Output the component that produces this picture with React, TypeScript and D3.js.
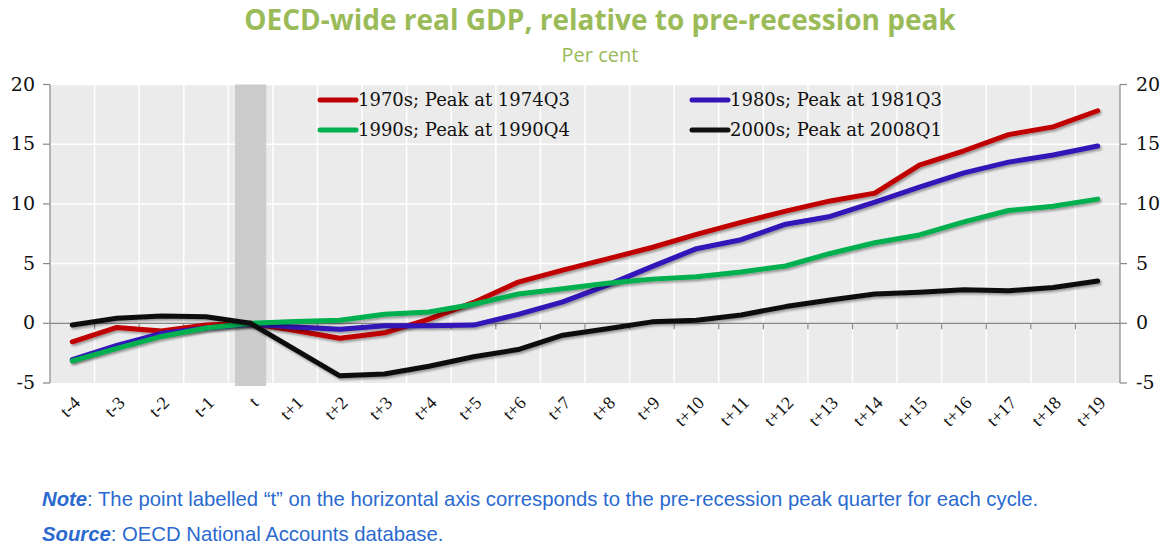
import React from "react";
import * as d3 from "d3";

const categories = ["t-4","t-3","t-2","t-1","t","t+1","t+2","t+3","t+4","t+5","t+6","t+7","t+8","t+9","t+10","t+11","t+12","t+13","t+14","t+15","t+16","t+17","t+18","t+19"];
const s1970 = [-1.55,-0.35,-0.65,-0.15,0,-0.6,-1.25,-0.8,0.35,1.75,3.45,4.45,5.4,6.35,7.45,8.45,9.4,10.25,10.9,13.25,14.45,15.8,16.45,17.8];
const s1980 = [-3.05,-1.85,-0.85,-0.4,-0.05,-0.3,-0.5,-0.2,-0.2,-0.15,0.75,1.8,3.2,4.75,6.25,7.0,8.3,8.95,10.15,11.4,12.6,13.5,14.1,14.85];
const s1990 = [-3.15,-2.1,-1.1,-0.4,0,0.15,0.25,0.75,0.95,1.6,2.45,2.9,3.35,3.7,3.9,4.3,4.8,5.85,6.75,7.4,8.5,9.45,9.8,10.4];
const s2000 = [-0.15,0.42,0.62,0.55,0,-2.2,-4.4,-4.25,-3.6,-2.8,-2.2,-1.0,-0.45,0.12,0.25,0.7,1.4,1.95,2.45,2.6,2.8,2.72,3.0,3.55];
const seriesNames = ["1970s; Peak at 1974Q3","1980s; Peak at 1981Q3","1990s; Peak at 1990Q4","2000s; Peak at 2008Q1"];
const seriesColors = ["#c00000","#3214b8","#00b050","#111111"];
const yTicks = [-5,0,5,10,15,20];
const peakCategory = "t";

export default function App() {
  const W = 1163, H = 552;
  const left = 50, right = 1120, top = 84.5, bottom = 383;
  const x = d3.scaleBand<string>().domain(categories).range([left, right]);
  const y = d3.scaleLinear().domain([-5, 20]).range([bottom, top]);
  const cx = (c: string) => (x(c) as number) + x.bandwidth() / 2;
  const allSeries = [s1970, s1980, s1990, s2000];
  const line = d3.line<number>().x((_, i) => cx(categories[i])).y(v => y(v));
  const bw = x.bandwidth() * 0.7;
  const serif = "'Liberation Serif', 'Times New Roman', serif";
  const numSerif = "'DejaVu Serif', serif";
  const legendItems = [
    { i: 0, lx: 318, ly: 100 },
    { i: 1, lx: 690, ly: 100 },
    { i: 2, lx: 318, ly: 130 },
    { i: 3, lx: 690, ly: 130 },
  ];
  return (
    <svg width={W} height={H} style={{ position: "absolute", left: 0, top: 0, background: "#fff" }}>
      <defs>
        <filter id="sh" x="-5%" y="-20%" width="110%" height="140%">
          <feDropShadow dx="1.5" dy="2" stdDeviation="1.2" floodColor="#000" floodOpacity="0.35" />
        </filter>
      </defs>
      <text x={600} y={30} textAnchor="middle" fill="#9bbb59" fontFamily="'Open Sans', sans-serif" fontWeight="bold" fontSize={28} letterSpacing={0}>OECD-wide real GDP, relative to pre-recession peak</text>
      <text x={600} y={62} textAnchor="middle" fill="#9bbb59" fontFamily="'Open Sans', sans-serif" fontSize={20}>Per cent</text>

      <rect x={left} y={top} width={right - left} height={bottom - top} fill="#ebebeb" />
      {yTicks.filter(t => t > 0).map(t => (
        <line key={"hg" + t} x1={left} x2={right} y1={y(t)} y2={y(t)} stroke="#fff" strokeWidth={1.5} />
      ))}
      {categories.map((c, i) => i > 0 ? (
        <line key={"vg" + c} x1={x(c) as number} x2={x(c) as number} y1={top} y2={bottom} stroke="#fff" strokeWidth={1.5} />
      ) : null)}
      <rect x={cx(peakCategory) - bw / 2} y={top} width={bw} height={bottom - top + 3} fill="#cccccc" />

      {legendItems.map(({ i, lx, ly }) => (
        <g key={"lg" + i}>
          <line x1={lx + 2} x2={lx + 38} y1={ly} y2={ly} stroke={seriesColors[i]} strokeWidth={5} strokeLinecap="round" />
          <text x={lx + 40} y={ly + 6} fontFamily={numSerif} fontSize={18} fill="#111">{seriesNames[i]}</text>
        </g>
      ))}

      {/* x axis at zero */}
      <line x1={left} x2={right} y1={y(0)} y2={y(0)} stroke="#888" strokeWidth={1.2} />
      {categories.map((c, i) => i > 0 ? (
        <line key={"xt" + c} x1={x(c) as number} x2={x(c) as number} y1={y(0)} y2={y(0) + 6} stroke="#888" strokeWidth={1.2} />
      ) : null)}

      {allSeries.map((s, i) => (
        <path key={"s" + i} d={line(s) || ""} fill="none" stroke={seriesColors[i]} strokeWidth={5} strokeLinejoin="round" strokeLinecap="round" filter="url(#sh)" />
      ))}

      {/* left axis */}
      <line x1={left} x2={left} y1={top} y2={bottom} stroke="#888" strokeWidth={1.2} />
      {yTicks.map(t => (
        <g key={"ly" + t}>
          <line x1={left - 7} x2={left} y1={y(t)} y2={y(t)} stroke="#888" strokeWidth={1.2} />
          <text x={35} y={y(t) + 6} textAnchor="end" fontFamily={numSerif} fontSize={19} fill="#111">{t}</text>
        </g>
      ))}
      {/* right axis */}
      <line x1={right} x2={right} y1={top} y2={bottom} stroke="#888" strokeWidth={1.2} />
      {yTicks.map(t => (
        <g key={"ry" + t}>
          <line x1={right} x2={right + 7} y1={y(t)} y2={y(t)} stroke="#888" strokeWidth={1.2} />
          <text x={1136} y={y(t) + 6} textAnchor="start" fontFamily={numSerif} fontSize={19} fill="#111">{t}</text>
        </g>
      ))}

      {categories.map(c => (
        <text key={"xl" + c} transform={`translate(${cx(c) + 9},${404}) rotate(-45)`} textAnchor="end" fontFamily={serif} fontSize={18} fill="#111">{c}</text>
      ))}

      <text x={42} y={506} fontFamily="'Liberation Sans', Arial, sans-serif" fontSize={20.3} letterSpacing={0} fill="#2a6ad0">
        <tspan fontWeight="bold" fontStyle="italic">Note</tspan>
        <tspan>: The point labelled “t” on the horizontal axis corresponds to the pre-recession peak quarter for each cycle.</tspan>
      </text>
      <text x={42} y={541} fontFamily="'Liberation Sans', Arial, sans-serif" fontSize={20.3} letterSpacing={0} fill="#2a6ad0">
        <tspan fontWeight="bold" fontStyle="italic">Source</tspan>
        <tspan>: OECD National Accounts database.</tspan>
      </text>
    </svg>
  );
}
